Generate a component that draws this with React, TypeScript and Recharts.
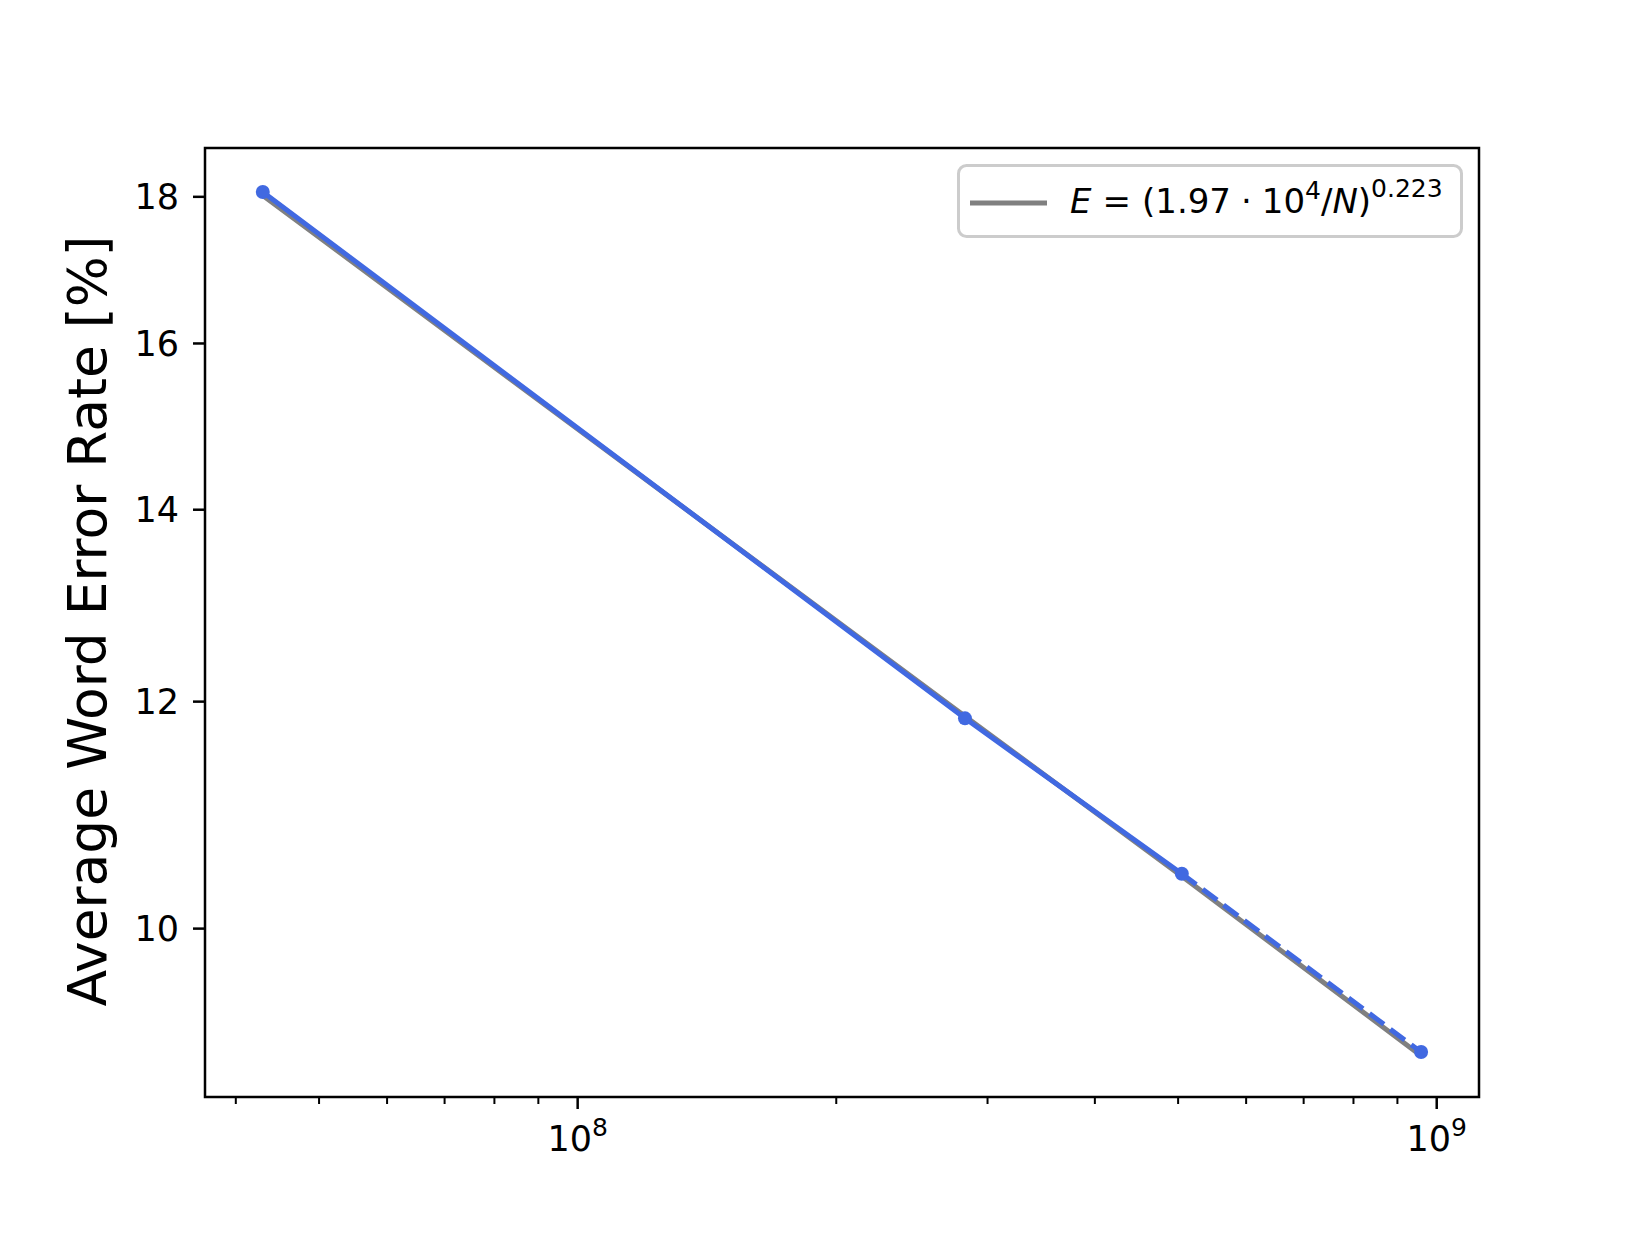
import React from 'react'
import {
    ComposedChart,
    Line,
    Scatter,
    XAxis,
    YAxis,
    ReferenceArea,
    Legend
} from 'recharts'

// model size (parameters) and measured WER
const params = [4.3e7, 2.824e8, 5.05e8, 9.59e8]
const wer = [18.07, 11.84, 10.45, 9.056]
// power-law fit as drawn (gray line)
const fitWer = [18.02, 11.86, 10.43, 9.03]

const xTicks = [4e7, 5e7, 6e7, 7e7, 8e7, 9e7, 1e8, 2e8, 3e8, 4e8, 5e8, 6e8, 7e8, 8e8, 9e8, 1e9]
const majorX = [1e8, 1e9]
const yTicks = [10, 12, 14, 16, 18]

const xDomain = [3.683e7, 1.12e9]
const yDomain = [8.735, 18.72]

const points = params.map((n, i) => ({ n, wer: wer[i] }))
const fitData = params.map((n, i) => ({ n, fit: fitWer[i] }))
const solidData = points.slice(0, 3)
const dashedData = points.slice(2)

const FONT = 'DejaVu Sans'
const BLUE = '#4169e1'
const GRAY = '#808080'

const XTick = ({ x, y, payload }: any) => {
    const v = payload.value
    const major = majorX.includes(v)
    const exp = Math.round(Math.log10(v))
    return (
        <g>
            <line x1={x} x2={x} y1={y} y2={y + (major ? 12 : 7)} stroke="#000" strokeWidth={major ? 2.5 : 2} />
            {major && (
                <text x={x} y={y + 54} textAnchor="middle" fontSize={35} fontFamily={FONT} fill="#000">
                    <tspan>10</tspan>
                    <tspan dy={-15} fontSize={25}>{exp}</tspan>
                </text>
            )}
        </g>
    )
}

const YTick = ({ x, y, payload }: any) => (
    <g>
        <line x1={x - 12} x2={x} y1={y} y2={y} stroke="#000" strokeWidth={2.5} />
        <text x={x - 26} y={y + 12.5} textAnchor="end" fontSize={35} fontFamily={FONT} fill="#000">
            {payload.value}
        </text>
    </g>
)

const YLabel = () => (
    <text
        x={106}
        y={621}
        transform="rotate(-90, 106, 621)"
        textAnchor="middle"
        fontSize={53.5}
        fontFamily={FONT}
        fill="#000"
    >
        Average Word Error Rate [%]
    </text>
)

const FitLegend = () => (
    <svg width={506} height={75}>
        <rect x={1.5} y={1.5} width={503} height={71} rx={8} fill="#fff" fillOpacity={0.8} stroke="#cccccc" strokeWidth={3} />
        <line x1={13} x2={90} y1={39} y2={39} stroke={GRAY} strokeWidth={5} />
        <text x={113} y={49} fontSize={34} fontFamily={FONT} fill="#000">
            <tspan fontStyle="italic">E</tspan>
            <tspan dx={11}>=</tspan>
            <tspan dx={11}>(1.97</tspan>
            <tspan dx={10}>·</tspan>
            <tspan dx={10}>10</tspan>
            <tspan dy={-14} fontSize={25}>4</tspan>
            <tspan dy={14}>/</tspan>
            <tspan fontStyle="italic">N</tspan>
            <tspan>)</tspan>
            <tspan dy={-16} fontSize={25}>0.223</tspan>
        </text>
    </svg>
)

export default function App() {
    return (
        <div style={{ position: 'absolute', left: 0, top: 0, width: 1643, height: 1233, background: '#fff' }}>
            <ComposedChart width={1643} height={1233} margin={{ top: 148, right: 164, bottom: 76, left: 85 }}>
                <XAxis
                    dataKey="n"
                    type="number"
                    scale="log"
                    domain={xDomain}
                    ticks={xTicks}
                    interval={0}
                    allowDataOverflow
                    axisLine={false}
                    tickLine={false}
                    tickSize={0}
                    tickMargin={0}
                    height={60}
                    tick={<XTick />}
                />
                <YAxis
                    type="number"
                    scale="log"
                    domain={yDomain}
                    ticks={yTicks}
                    interval={0}
                    allowDataOverflow
                    axisLine={false}
                    tickLine={false}
                    tickSize={0}
                    tickMargin={0}
                    width={120}
                    tick={<YTick />}
                    label={{ content: <YLabel /> }}
                />
                <Legend
                    layout="horizontal"
                    verticalAlign="middle"
                    align="center"
                    wrapperStyle={{ left: 957, top: 164, width: 506, height: 75 }}
                    content={<FitLegend />}
                />
                <Line
                    data={fitData}
                    dataKey="fit"
                    type="linear"
                    stroke={GRAY}
                    strokeWidth={5}
                    dot={false}
                    activeDot={false}
                    isAnimationActive={false}
                />
                <Line
                    data={solidData}
                    dataKey="wer"
                    type="linear"
                    stroke={BLUE}
                    strokeWidth={5}
                    dot={false}
                    activeDot={false}
                    legendType="none"
                    isAnimationActive={false}
                />
                <Line
                    data={dashedData}
                    dataKey="wer"
                    type="linear"
                    stroke={BLUE}
                    strokeWidth={5}
                    strokeDasharray="18 8"
                    dot={false}
                    activeDot={false}
                    legendType="none"
                    isAnimationActive={false}
                />
                <Scatter
                    data={points}
                    dataKey="wer"
                    fill={BLUE}
                    legendType="none"
                    isAnimationActive={false}
                    shape={(p: any) => <circle cx={p.cx} cy={p.cy} r={7} fill={BLUE} />}
                />
                <ReferenceArea
                    x1={xDomain[0]}
                    x2={xDomain[1]}
                    y1={yDomain[0]}
                    y2={yDomain[1]}
                    fill="none"
                    stroke="#000"
                    strokeWidth={2.5}
                    ifOverflow="visible"
                />
            </ComposedChart>
        </div>
    )
}
